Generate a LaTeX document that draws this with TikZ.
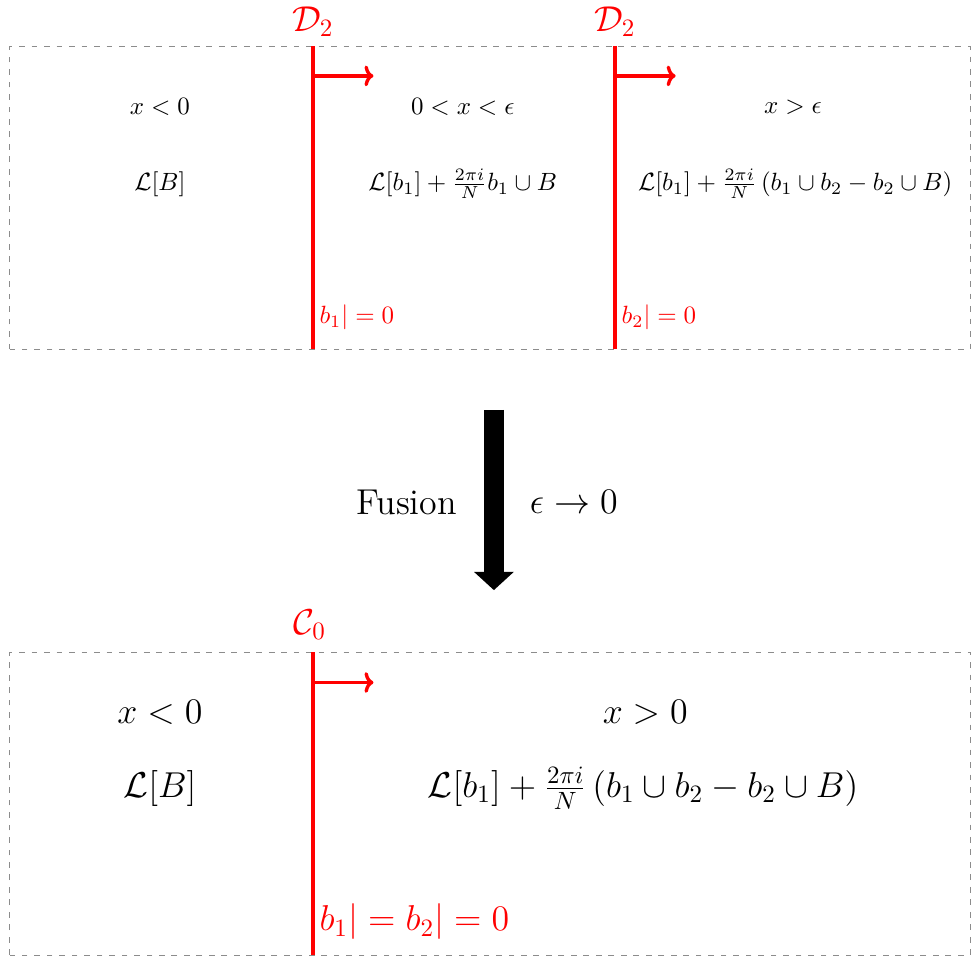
\documentclass[tikz,border=0pt]{standalone}
\usepackage{amsmath}
\usepackage{amssymb}
\usetikzlibrary{arrows.meta,positioning}

\tikzset{
  caja/.style={draw=black!45, line width=0.4pt, dash pattern=on 2.3pt off 2.7pt},
  muro/.style={red, line width=1.65pt},
  orient/.style={red, line width=1.35pt, -{To[length=3.6pt,width=8.3pt]}},
  etiq/.style={inner sep=1pt},
}

\begin{document}
\begin{tikzpicture}[scale=1.04]
\useasboundingbox (-0.135,-0.08) rectangle (13.01,12.93);

% Caja superior: dos defectos D_2 separados por epsilon
\draw[caja] (0,8.2) rectangle (13,12.3);

\coordinate (d1top) at (4.1,12.3);
\coordinate (d1bot) at (4.1,8.2);
\coordinate (d2top) at (8.19,12.3);
\coordinate (d2bot) at (8.19,8.2);
\draw[muro] (d1top) -- (d1bot);
\draw[muro] (d2top) -- (d2bot);

% Orientacion de los defectos
\coordinate (o1a) at (4.1,11.9);
\coordinate (o1b) at (4.92,11.9);
\coordinate (o2a) at (8.19,11.9);
\coordinate (o2b) at (9.01,11.9);
\draw[orient] (o1a) -- (o1b);
\draw[orient] (o2a) -- (o2b);

% Nombres de los defectos
\node[red, font=\Large] (D1) at (4.1,12.64) {$\mathcal{D}_2$};
\node[red, font=\Large] (D2) at (8.19,12.64) {$\mathcal{D}_2$};

% Regiones
\node (regA) at (2.03,11.48) {$x<0$};
\node (lagA) at (2.03,10.44) {$\mathcal{L}[B]$};
\node (regB) at (6.13,11.48) {$0<x<\epsilon$};
\node (lagB) at (6.13,10.44) {$\mathcal{L}[b_1]+\frac{2\pi i}{N}b_1\cup B$};
\node (regC) at (10.6,11.48) {$x>\epsilon$};
\node (lagC) at (10.63,10.44) {$\mathcal{L}[b_1]+\frac{2\pi i}{N}\left(b_1\cup b_2-b_2\cup B\right)$};

% Condiciones de borde
\node[red, anchor=west, etiq] (bc1) at (4.15,8.63) {$b_1|=0$};
\node[red, anchor=west, etiq] (bc2) at (8.24,8.63) {$b_2|=0$};

% Flecha de fusion
\coordinate (fa) at (6.55,7.38);
\coordinate (fb) at (6.55,4.94);
\draw[line width=8.3pt, -{Triangle[width=15.5pt,length=7.3pt]}] (fa) -- (fb);
\node[font=\Large, anchor=east] (fus) at (6.17,6.13) {Fusion};
\node[font=\Large, anchor=west] (lim) at (6.92,6.13) {$\epsilon\to 0$};

% Caja inferior: defecto fusionado C_0
\draw[caja] (0,0) rectangle (13,4.1);

\coordinate (c0top) at (4.1,4.1);
\coordinate (c0bot) at (4.1,0);
\draw[muro] (c0top) -- (c0bot);
\coordinate (o3a) at (4.1,3.69);
\coordinate (o3b) at (4.92,3.69);
\draw[orient] (o3a) -- (o3b);

\node[red, font=\Large] (C0) at (4.06,4.47) {$\mathcal{C}_0$};

\node[font=\Large] (regD) at (2.03,3.28) {$x<0$};
\node[font=\Large] (lagD) at (2.03,2.26) {$\mathcal{L}[B]$};
\node[font=\Large] (regE) at (8.6,3.28) {$x>0$};
\node[font=\Large] (lagE) at (8.57,2.26) {$\mathcal{L}[b_1]+\frac{2\pi i}{N}\left(b_1\cup b_2-b_2\cup B\right)$};

\node[red, font=\Large, anchor=west, etiq] (bc3) at (4.15,0.45) {$b_1|=b_2|=0$};
\end{tikzpicture}
\end{document}
